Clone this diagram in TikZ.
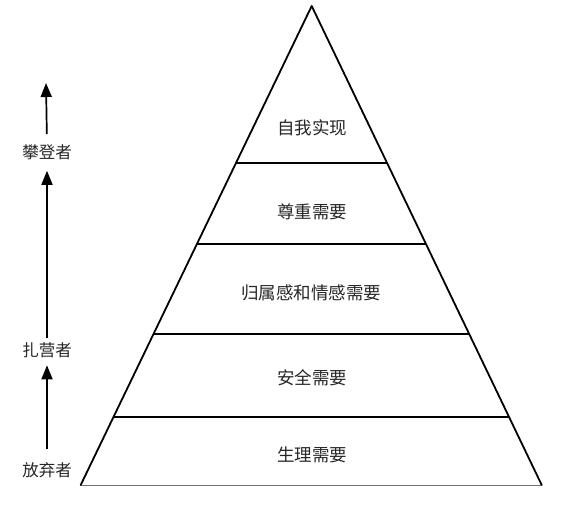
\documentclass[tikz,border=0pt]{standalone}
\usepackage{fontspec}
\setmainfont{Noto Sans CJK SC}
\usetikzlibrary{arrows.meta,calc}
\tikzset{
  side/.style={line width=1.8pt, line cap=round, line join=round},
  level/.style={line width=1.8pt},
  baseline/.style={line width=1pt, draw=black!55},
  lbl/.style={inner sep=0pt, text=black!85, font=\fontsize{16.5}{17}\selectfont},
  plbl/.style={lbl, font=\fontsize{17.5}{18}\selectfont},
  up/.style={line width=1.7pt, -{Triangle[width=11pt,length=14pt]}}
}
\begin{document}
\begin{tikzpicture}[x=1pt,y=-1pt]
\useasboundingbox (0,0) rectangle (564,506);
\coordinate (apex) at (311.7,6);
\coordinate (bl) at (80.7,485);
\coordinate (br) at (541.7,485);
% levels
\coordinate (l1) at ($(apex)!0.3278!(bl)$);
\coordinate (r1) at ($(apex)!0.3278!(br)$);
\coordinate (l2) at ($(apex)!0.4969!(bl)$);
\coordinate (r2) at ($(apex)!0.4969!(br)$);
\coordinate (l3) at ($(apex)!0.6848!(bl)$);
\coordinate (r3) at ($(apex)!0.6848!(br)$);
\coordinate (l4) at ($(apex)!0.8580!(bl)$);
\coordinate (r4) at ($(apex)!0.8580!(br)$);
\draw[baseline] (bl) -- (br);
\draw[side] (bl) -- (apex) -- (br);
\draw[level] (l1) -- (r1);
\draw[level] (l2) -- (r2);
\draw[level] (l3) -- (r3);
\draw[level] (l4) -- (r4);
% pyramid texts
\node[plbl] (t1) at (312,128) {自我实现};
\node[plbl] (t2) at (312,212) {尊重需要};
\node[plbl] (t3) at (311,293) {归属感和情感需要};
\node[plbl] (t4) at (312,378) {安全需要};
\node[plbl] (t5) at (312,455) {生理需要};
% side labels
\node[lbl] (pd) at (47,152) {攀登者};
\node[lbl] (zy) at (47,350) {扎营者};
\node[lbl] (fq) at (47,470) {放弃者};
\coordinate (top) at (46,83);
\draw[up, shorten <=13.5pt, shorten >=7.5pt] (fq.north) -- (zy.south);
\draw[up, shorten <=4pt, shorten >=11pt] (zy.north) -- (pd.south);
\draw[up, shorten <=10pt] (pd.north) -- (top);
\end{tikzpicture}
\end{document}
